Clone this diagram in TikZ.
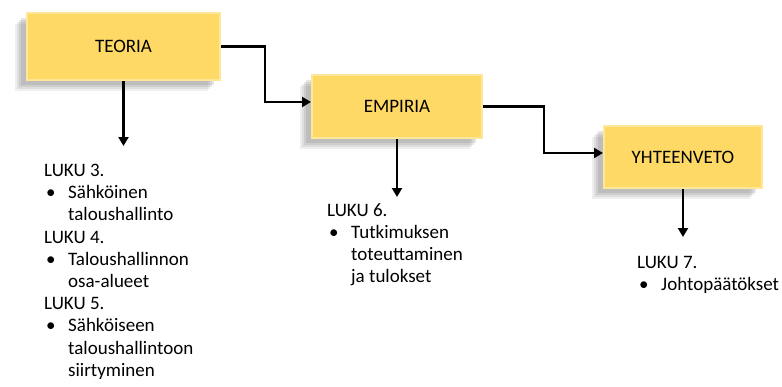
\documentclass[tikz,border=0pt]{standalone}
\usepackage{fontspec}
\setmainfont{Carlito}
\usetikzlibrary{arrows.meta,shadows}

\definecolor{boxgold}{HTML}{FFD966}
\definecolor{boxedge}{HTML}{FFE79A}
\newcommand{\bul}{\makebox[24pt][l]{\hspace{2pt}\textbullet}}
\newcommand{\bulind}{\hspace*{24pt}}

\begin{document}
\begin{tikzpicture}[x=1pt, y=-1pt, >={Triangle[length=9pt,width=10pt]},
	box/.style={rectangle, fill=boxgold, draw=boxedge, line width=2pt, inner sep=0pt,
		font=\fontsize{19}{22}\selectfont,
		general shadow={shadow xshift=-12pt, shadow yshift=-11pt, fill=black!50, opacity=0.12},
		general shadow={shadow xshift=-10pt, shadow yshift=-9pt, fill=black!50, opacity=0.15},
		general shadow={shadow xshift=-8pt, shadow yshift=-7pt, fill=black!50, opacity=0.18},
		general shadow={shadow xshift=-6pt, shadow yshift=-5pt, fill=black!50, opacity=0.2}},
	note/.style={anchor=north west, align=left, inner sep=0pt, font=\fontsize{19}{22.2}\selectfont},
	link/.style={->, line width=2.6pt}]
	\useasboundingbox[fill=white] (0,0) rectangle (782,386);

	\node[box, minimum width=193pt, minimum height=67pt] (teoria) at (123.5,46.5) {TEORIA};
	\node[box, minimum width=170pt, minimum height=63pt] (empiria) at (397,106.5) {EMPIRIA};
	\node[box, minimum width=158pt, minimum height=62pt] (yhteenveto) at (683,157) {YHTEENVETO};

	\node[note] (t3) at (44,164) {LUKU 3.\\ \bul Sähköinen\\ \bulind taloushallinto\\ LUKU 4.\\ \bul Taloushallinnon\\ \bulind osa-alueet\\ LUKU 5.\\ \bul Sähköiseen\\ \bulind taloushallintoon\\ \bulind siirtyminen};
	\node[note] (t6) at (327,203) {LUKU 6.\\ \bul Tutkimuksen\\ \bulind toteuttaminen\\ \bulind ja tulokset};
	\node[note] (t7) at (637,256) {LUKU 7.\\ \bul Johtopäätökset};

	\draw[link] (teoria.east) -- ++(44,0) |- ([yshift=4.5pt]empiria.west);
	\draw[link] (empiria.east) -- ++(61,0) |- ([yshift=4pt]yhteenveto.west);
	\draw[link] (teoria.south) -- ([yshift=18pt]teoria.south |- t3.north);
	\draw[link] (empiria.south) -- ([yshift=6pt]empiria.south |- t6.north);
	\draw[link] (yhteenveto.south) -- ([yshift=19pt]yhteenveto.south |- t7.north);
\end{tikzpicture}
\end{document}
